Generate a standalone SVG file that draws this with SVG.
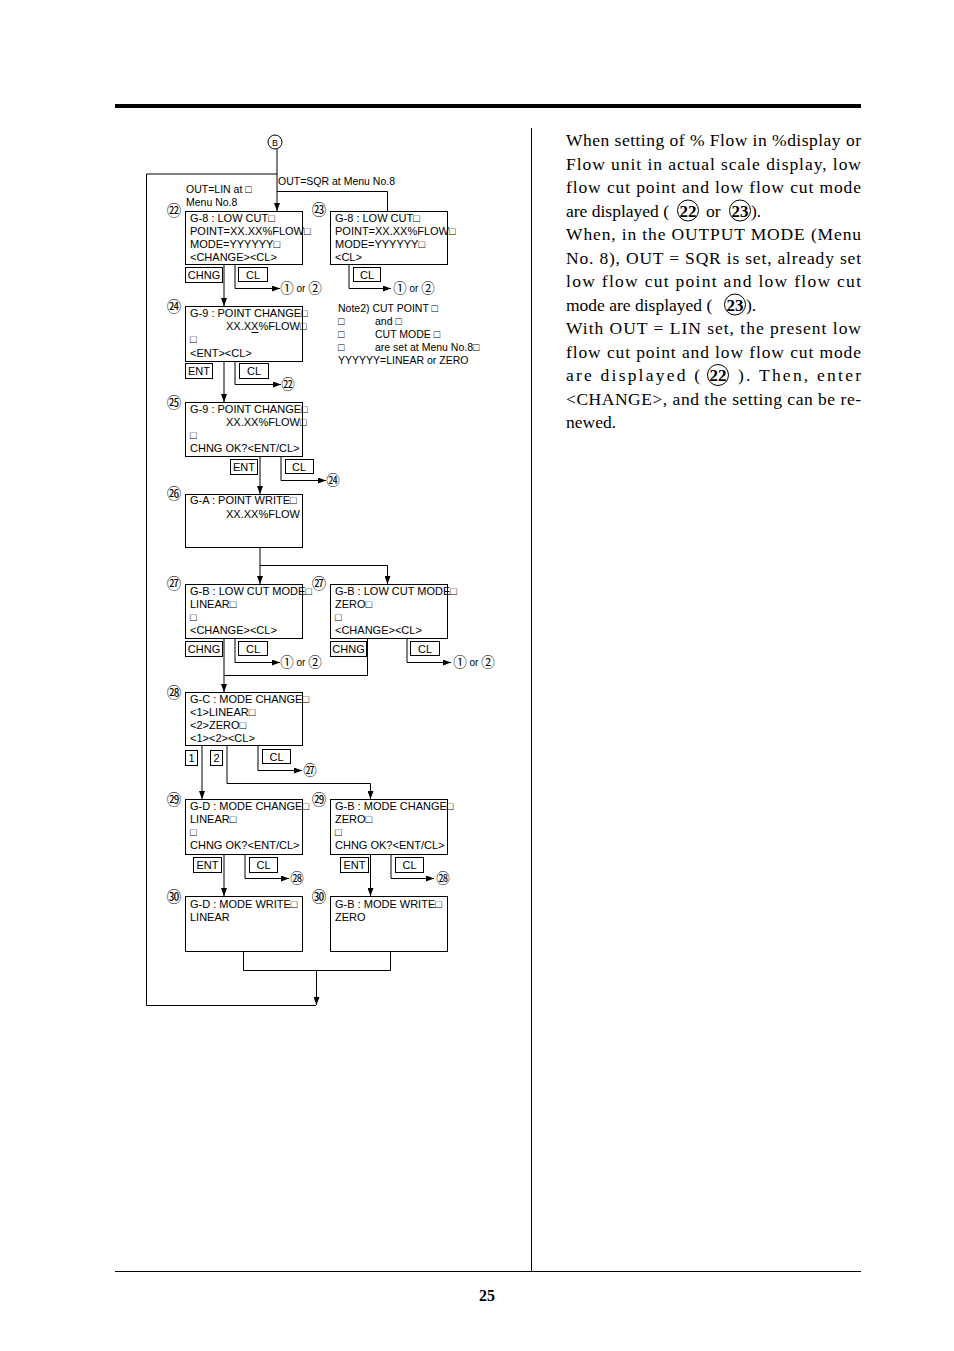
<svg xmlns="http://www.w3.org/2000/svg" width="954" height="1351" viewBox="0 0 954 1351">
<style>
.bx{fill:#fff;stroke:#000;stroke-width:1}
.bt{fill:#fff;stroke:#000;stroke-width:1}
.t{font-family:"Liberation Sans",Arial,"DejaVu Sans",sans-serif;font-size:11px;fill:#000}
.bl{font-family:"Liberation Sans",Arial,"DejaVu Sans",sans-serif;font-size:11px;fill:#000;text-anchor:middle}
.c{font-family:"Noto Sans CJK JP","DejaVu Sans",sans-serif;font-size:14.5px;fill:#000;text-anchor:middle}
.cs{font-family:"Noto Sans CJK JP","DejaVu Sans",sans-serif;font-size:13.5px;fill:#000;text-anchor:middle}
.cn{fill:none;stroke:#000;stroke-width:1}
.body{font-family:"Liberation Serif","Times New Roman",serif;font-size:17.5px;fill:#000}
.bn{font-family:"Liberation Serif","Times New Roman",serif;font-size:17px;font-weight:bold;fill:#000;text-anchor:middle}
.ln{fill:none;stroke:#000;stroke-width:1}
</style>
<defs>
<marker id="ah" markerWidth="8" markerHeight="6" refX="8" refY="3" orient="auto" markerUnits="userSpaceOnUse"><path d="M0,0 L8,3 L0,6 z" fill="#000"/></marker>
</defs>
<rect width="954" height="1351" fill="#fff"/>
<!-- page frame -->
<g id="page">
<rect x="115" y="104" width="746" height="4" fill="#000"/>
<line x1="531.5" y1="128" x2="531.5" y2="1271" class="ln"/>
<line x1="115" y1="1271.5" x2="861" y2="1271.5" class="ln"/>
<text x="487" y="1301" text-anchor="middle" font-family="Liberation Serif,serif" font-size="16" font-weight="bold">25</text>
</g>
<!-- connectors -->
<g id="connectors" class="ln">
<path d="M277,149 V211" marker-end="url(#ah)"/>
<path d="M277,174 H146.5 V1005.5 H316"/>
<path d="M277,191.5 H387.5 V211"/>
<path d="M224,264 V306" marker-end="url(#ah)"/>
<path d="M235,264 V288.5 H280" marker-end="url(#ah)"/>
<path d="M349,264 V288.5 H391" marker-end="url(#ah)"/>
<path d="M224,361 V402" marker-end="url(#ah)"/>
<path d="M235,361 V384.5 H281" marker-end="url(#ah)"/>
<path d="M260,456 V494" marker-end="url(#ah)"/>
<path d="M281,456 V480.5 H326" marker-end="url(#ah)"/>
<path d="M260,547 V584" marker-end="url(#ah)"/>
<path d="M260,565.5 H387.5 V584" marker-end="url(#ah)"/>
<path d="M235,638 V662.5 H280" marker-end="url(#ah)"/>
<path d="M224,638 V692" marker-end="url(#ah)"/>
<path d="M367.5,638 V675.5 H224"/>
<path d="M407,638 V662.5 H451" marker-end="url(#ah)"/>
<path d="M202,745 V799" marker-end="url(#ah)"/>
<path d="M227,745 V783.5 H370.5 V799" marker-end="url(#ah)"/>
<path d="M258,745 V770.5 H302" marker-end="url(#ah)"/>
<path d="M224,854 V896" marker-end="url(#ah)"/>
<path d="M245,854 V878.5 H289" marker-end="url(#ah)"/>
<path d="M370.5,854 V896" marker-end="url(#ah)"/>
<path d="M391,854 V878.5 H434" marker-end="url(#ah)"/>
<path d="M243.5,951 V970.5 H390.5 V951"/>
<path d="M316.5,970 V1005" marker-end="url(#ah)"/>
</g>
<!-- B -->
<g id="nodeB">
<circle cx="275" cy="142" r="7" class="cn"/>
<text x="275" y="145.5" class="bl" style="font-size:9px">B</text>
</g>
<g id="labels">
<text x="278" y="185" class="t" style="font-size:10.5px">OUT=SQR at Menu No.8</text>
<text x="186" y="193" class="t" style="font-size:10.5px">OUT=LIN at □</text>
<text x="186" y="206" class="t" style="font-size:10.5px">Menu No.8</text>
</g>
<!-- 22 -->
<g id="n22">
<text x="174" y="216" class="c">㉒</text>
<rect x="185.5" y="211.5" width="117" height="53" class="bx"/>
<text x="190" y="221.5" class="t">G-8 : LOW CUT□</text>
<text x="190" y="234.8" class="t">POINT=XX.XX%FLOW□</text>
<text x="190" y="248.1" class="t">MODE=YYYYYY□</text>
<text x="190" y="261.4" class="t">&lt;CHANGE&gt;&lt;CL&gt;</text>
<rect x="185.5" y="267.5" width="37" height="15" class="bt"/>
<text x="204" y="279" class="bl">CHNG</text>
<rect x="238.5" y="267.5" width="29" height="14" class="bt"/>
<text x="253" y="278.5" class="bl">CL</text>
<text x="287" y="293" class="cs">①</text>
<text x="301" y="292" class="bl" style="font-size:10px">or</text>
<text x="315" y="293" class="cs">②</text>
</g>
<!-- 23 -->
<g id="n23">
<text x="319" y="215" class="c">㉓</text>
<rect x="330.5" y="211.5" width="117" height="53" class="bx"/>
<text x="335" y="221.5" class="t">G-8 : LOW CUT□</text>
<text x="335" y="234.8" class="t">POINT=XX.XX%FLOW□</text>
<text x="335" y="248.1" class="t">MODE=YYYYYY□</text>
<text x="335" y="261.4" class="t">&lt;CL&gt;</text>
<rect x="353.5" y="267.5" width="27" height="14" class="bt"/>
<text x="367" y="278.5" class="bl">CL</text>
<text x="400" y="293" class="cs">①</text>
<text x="414" y="292" class="bl" style="font-size:10px">or</text>
<text x="428" y="293" class="cs">②</text>
</g>
<!-- note -->
<g id="note2">
<text x="338" y="312" class="t" style="font-size:10.5px">Note2) CUT POINT □</text>
<text x="338" y="325" class="t" style="font-size:10.5px">□</text><text x="375" y="325" class="t" style="font-size:10.5px">and □</text>
<text x="338" y="338" class="t" style="font-size:10.5px">□</text><text x="375" y="338" class="t" style="font-size:10.5px">CUT MODE □</text>
<text x="338" y="351" class="t" style="font-size:10.5px">□</text><text x="375" y="351" class="t" style="font-size:10.5px">are set at Menu No.8□</text>
<text x="338" y="364" class="t" style="font-size:10.5px">YYYYYY=LINEAR or ZERO</text>
</g>
<!-- 24 -->
<g id="n24">
<text x="174" y="312" class="c">㉔</text>
<rect x="185.5" y="306.5" width="117" height="55" class="bx"/>
<text x="190" y="316.5" class="t">G-9 : POINT CHANGE□</text>
<text x="226" y="330" class="t">XX.XX%FLOW□</text>
<line x1="251.5" y1="332.5" x2="258.5" y2="332.5" class="ln"/>
<text x="190" y="343.3" class="t">□</text>
<text x="190" y="356.6" class="t">&lt;ENT&gt;&lt;CL&gt;</text>
<rect x="185.5" y="363.5" width="27" height="15" class="bt"/>
<text x="199" y="375" class="bl">ENT</text>
<rect x="239.5" y="363.5" width="29" height="15" class="bt"/>
<text x="254" y="375" class="bl">CL</text>
<text x="288" y="389" class="cs">㉒</text>
</g>
<!-- 25 -->
<g id="n25">
<text x="174" y="408" class="c">㉕</text>
<rect x="185.5" y="402.5" width="117" height="54" class="bx"/>
<text x="190" y="412.5" class="t">G-9 : POINT CHANGE□</text>
<text x="226" y="425.8" class="t">XX.XX%FLOW□</text>
<text x="190" y="439.1" class="t">□</text>
<text x="190" y="452.4" class="t">CHNG OK?&lt;ENT/CL&gt;</text>
<rect x="230.5" y="459.5" width="27" height="15" class="bt"/>
<text x="244" y="471" class="bl">ENT</text>
<rect x="285.5" y="459.5" width="28" height="14" class="bt"/>
<text x="299" y="470.5" class="bl">CL</text>
<text x="333" y="485" class="cs">㉔</text>
</g>
<!-- 26 -->
<g id="n26">
<text x="174" y="499" class="c">㉖</text>
<rect x="185.5" y="494.5" width="117" height="53" class="bx"/>
<text x="190" y="504" class="t">G-A : POINT WRITE□</text>
<text x="226" y="517.5" class="t">XX.XX%FLOW</text>
</g>
<!-- 27L -->
<g id="n27L">
<text x="174" y="589" class="c">㉗</text>
<rect x="185.5" y="584.5" width="117" height="54" class="bx"/>
<text x="190" y="594.5" class="t">G-B : LOW CUT MODE□</text>
<text x="190" y="607.8" class="t">LINEAR□</text>
<text x="190" y="621.1" class="t">□</text>
<text x="190" y="634.4" class="t">&lt;CHANGE&gt;&lt;CL&gt;</text>
<rect x="185.5" y="641.5" width="37" height="15" class="bt"/>
<text x="204" y="653" class="bl">CHNG</text>
<rect x="238.5" y="641.5" width="29" height="14" class="bt"/>
<text x="253" y="652.5" class="bl">CL</text>
<text x="287" y="667" class="cs">①</text>
<text x="301" y="666" class="bl" style="font-size:10px">or</text>
<text x="315" y="667" class="cs">②</text>
</g>
<!-- 27R -->
<g id="n27R">
<text x="319" y="589" class="c">㉗</text>
<rect x="330.5" y="584.5" width="117" height="54" class="bx"/>
<text x="335" y="594.5" class="t">G-B : LOW CUT MODE□</text>
<text x="335" y="607.8" class="t">ZERO□</text>
<text x="335" y="621.1" class="t">□</text>
<text x="335" y="634.4" class="t">&lt;CHANGE&gt;&lt;CL&gt;</text>
<rect x="330.5" y="641.5" width="36" height="15" class="bt"/>
<text x="348.5" y="653" class="bl">CHNG</text>
<rect x="410.5" y="641.5" width="29" height="14" class="bt"/>
<text x="425" y="652.5" class="bl">CL</text>
<text x="460" y="667" class="cs">①</text>
<text x="474" y="666" class="bl" style="font-size:10px">or</text>
<text x="488" y="667" class="cs">②</text>
</g>
<!-- 28 -->
<g id="n28">
<text x="174" y="698" class="c">㉘</text>
<rect x="185.5" y="692.5" width="117" height="53" class="bx"/>
<text x="190" y="702.5" class="t">G-C : MODE CHANGE□</text>
<text x="190" y="715.8" class="t">&lt;1&gt;LINEAR□</text>
<text x="190" y="729.1" class="t">&lt;2&gt;ZERO□</text>
<text x="190" y="742.4" class="t">&lt;1&gt;&lt;2&gt;&lt;CL&gt;</text>
<rect x="185.5" y="750.5" width="12" height="15" class="bt"/>
<text x="191.5" y="762" class="bl">1</text>
<rect x="210.5" y="750.5" width="12" height="15" class="bt"/>
<text x="216.5" y="762" class="bl">2</text>
<rect x="262.5" y="749.5" width="28" height="14" class="bt"/>
<text x="276.5" y="760.5" class="bl">CL</text>
<text x="310" y="775" class="cs">㉗</text>
</g>
<!-- 29L -->
<g id="n29L">
<text x="174" y="805" class="c">㉙</text>
<rect x="185.5" y="799.5" width="117" height="55" class="bx"/>
<text x="190" y="809.5" class="t">G-D : MODE CHANGE□</text>
<text x="190" y="822.8" class="t">LINEAR□</text>
<text x="190" y="836.1" class="t">□</text>
<text x="190" y="849.4" class="t">CHNG OK?&lt;ENT/CL&gt;</text>
<rect x="193.5" y="857.5" width="28" height="15" class="bt"/>
<text x="207.5" y="869" class="bl">ENT</text>
<rect x="249.5" y="857.5" width="28" height="15" class="bt"/>
<text x="263.5" y="869" class="bl">CL</text>
<text x="297" y="883" class="cs">㉘</text>
</g>
<!-- 29R -->
<g id="n29R">
<text x="319" y="805" class="c">㉙</text>
<rect x="330.5" y="799.5" width="117" height="55" class="bx"/>
<text x="335" y="809.5" class="t">G-B : MODE CHANGE□</text>
<text x="335" y="822.8" class="t">ZERO□</text>
<text x="335" y="836.1" class="t">□</text>
<text x="335" y="849.4" class="t">CHNG OK?&lt;ENT/CL&gt;</text>
<rect x="340.5" y="857.5" width="28" height="15" class="bt"/>
<text x="354.5" y="869" class="bl">ENT</text>
<rect x="395.5" y="857.5" width="28" height="15" class="bt"/>
<text x="409.5" y="869" class="bl">CL</text>
<text x="443" y="883" class="cs">㉘</text>
</g>
<!-- 30L -->
<g id="n30L">
<text x="174" y="902" class="c">㉚</text>
<rect x="185.5" y="896.5" width="117" height="55" class="bx"/>
<text x="190" y="907.5" class="t">G-D : MODE WRITE□</text>
<text x="190" y="920.8" class="t">LINEAR</text>
</g>
<!-- 30R -->
<g id="n30R">
<text x="319" y="902" class="c">㉚</text>
<rect x="330.5" y="896.5" width="117" height="55" class="bx"/>
<text x="335" y="907.5" class="t">G-B : MODE WRITE□</text>
<text x="335" y="920.8" class="t">ZERO</text>
</g>
<!-- body text -->
<g id="bodytext">
<text x="566" y="146" class="body" textLength="295" lengthAdjust="spacing">When setting of % Flow in %display or</text>
<text x="566" y="169.5" class="body" textLength="295" lengthAdjust="spacing">Flow unit in actual scale display, low</text>
<text x="566" y="193" class="body" textLength="295" lengthAdjust="spacing">flow cut point and low flow cut mode</text>
<text x="566" y="216.5" class="body">are displayed (</text>
<circle cx="688" cy="210.5" r="10.5" class="cn"/><text x="688" y="216.5" class="bn">22</text>
<text x="706" y="216.5" class="body">or</text>
<circle cx="740" cy="210.5" r="10.5" class="cn"/><text x="740" y="216.5" class="bn">23</text>
<text x="751" y="216.5" class="body">).</text>
<text x="566" y="240" class="body" textLength="295" lengthAdjust="spacing">When, in the OUTPUT MODE (Menu</text>
<text x="566" y="263.5" class="body" textLength="295" lengthAdjust="spacing">No. 8), OUT = SQR is set, already set</text>
<text x="566" y="287" class="body" textLength="295" lengthAdjust="spacing">low flow cut point and low flow cut</text>
<text x="566" y="310.5" class="body">mode are displayed (</text>
<circle cx="735" cy="304.5" r="10.5" class="cn"/><text x="735" y="310.5" class="bn">23</text>
<text x="746" y="310.5" class="body">).</text>
<text x="566" y="334" class="body" textLength="295" lengthAdjust="spacing">With OUT = LIN set, the present low</text>
<text x="566" y="357.5" class="body" textLength="295" lengthAdjust="spacing">flow cut point and low flow cut mode</text>
<text x="566" y="381" class="body" textLength="134" lengthAdjust="spacing">are displayed (</text>
<circle cx="718" cy="375" r="10.5" class="cn"/><text x="718" y="381" class="bn">22</text>
<text x="738" y="381" class="body" textLength="123" lengthAdjust="spacing">). Then, enter</text>
<text x="566" y="404.5" class="body" textLength="295" lengthAdjust="spacing">&lt;CHANGE&gt;, and the setting can be re-</text>
<text x="566" y="428" class="body">newed.</text>
</g>
</svg>
